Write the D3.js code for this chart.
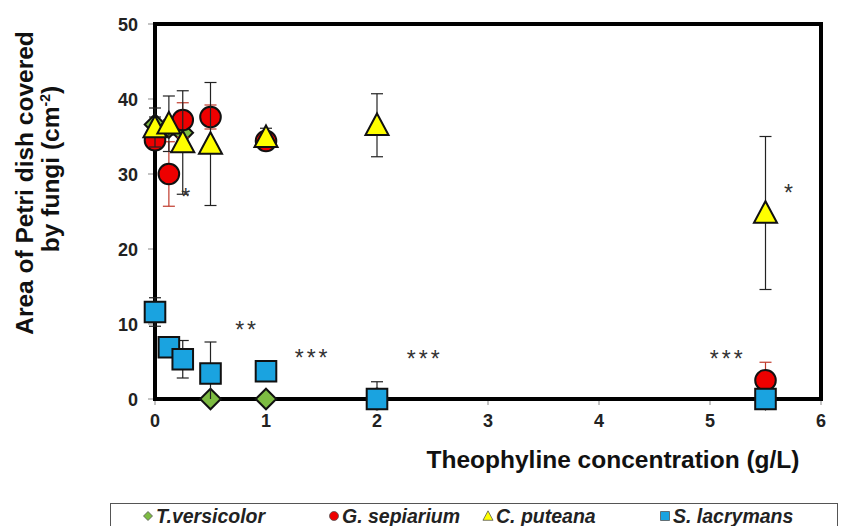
<!DOCTYPE html>
<html>
<head>
    <meta charset="utf-8">
    <script src="https://d3js.org/d3.v7.min.js"></script>
    <style>
        body { margin: 0; background: #fff; }
        svg { display: block; font-family: "Liberation Sans", Arial, sans-serif; }
    </style>
</head>
<body>
<svg id="chart" width="842" height="526"></svg>
<script>
    // concentrations (g/L)
    const conc = [0, 0.125, 0.25, 0.5, 1, 2, 5.5]

    const tVersicolor = [36.6, 36.2, 35.5, 0, 0, 0, 0]
    const tVersicolorErr = [1, 1, 1, 0, 0, 0, 0]
    const gSepiarium = [34.5, 30, 37.2, 37.6, 34.4, 0, 2.5]
    const gSepiariumErr = [0.4, 4.3, 2.3, 1.6, 0.4, 0, 2.4]
    const cPuteana = [36.2, 36.7, 34.2, 34, 34.9, 36.5, 24.8]
    const cPuteanaErr = [2.6, 3.7, 6.9, 8.2, 1.2, 4.2, 10.2]
    const sLacrymans = [11.6, 6.9, 5.3, 3.4, 3.7, 0, 0]
    const sLacrymansErr = [1.9, 0.6, 2.5, 4.2, 0.4, 2.3, 0.4]

    const xTicks = [0, 1, 2, 3, 4, 5, 6]
    const yTicks = [0, 10, 20, 30, 40, 50]

    // significance marks: [x, y, label]
    const stars = [[0.29, 27.4, "*"], [5.72, 27.9, "*"], [0.83, 9.6, "**"],
                   [1.42, 5.9, "***"], [2.43, 5.7, "***"], [5.16, 5.7, "***"]]

    const series = [
        {name: "T.versicolor", vals: tVersicolor, err: tVersicolorErr, shape: "diamond", fill: "#7dbb42", errColor: "#222"},
        {name: "G. sepiarium", vals: gSepiarium, err: gSepiariumErr, shape: "circle", fill: "#ee0000", errColor: "#c0392b"},
        {name: "C. puteana", vals: cPuteana, err: cPuteanaErr, shape: "triangle", fill: "#ffff00", errColor: "#222"},
        {name: "S. lacrymans", vals: sLacrymans, err: sLacrymansErr, shape: "square", fill: "#1aa3e0", errColor: "#222"}
    ]

    const svg = d3.select("#chart")
    const plotL = 155, plotR = 821, plotT = 24, plotB = 399

    const x = d3.scaleLinear().domain([0, 6]).range([plotL, plotR])
    const y = d3.scaleLinear().domain([0, 50]).range([plotB, plotT])

    function shapePath(shape, s) {
        // s = half size
        if (shape === "diamond") return `M0,${-s}L${s},0L0,${s}L${-s},0Z`
        if (shape === "square") return `M${-s},${-s}H${s}V${s}H${-s}Z`
        if (shape === "triangle") return `M0,${-s * 1.15}L${s * 1.12},${s * 0.95}L${-s * 1.12},${s * 0.95}Z`
        return d3.symbol(d3.symbolCircle, Math.PI * s * s)()
    }

    // ticks
    svg.append("g").selectAll("line").data(yTicks).join("line")
        .attr("x1", plotL - 7).attr("x2", plotL)
        .attr("y1", d => y(d)).attr("y2", d => y(d))
        .attr("stroke", "#888").attr("stroke-width", 1)
    svg.append("g").selectAll("line").data(xTicks).join("line")
        .attr("x1", d => x(d)).attr("x2", d => x(d))
        .attr("y1", plotB).attr("y2", plotB + 6)
        .attr("stroke", "#888").attr("stroke-width", 1)

    svg.append("g").selectAll("text").data(yTicks).join("text")
        .attr("x", plotL - 17).attr("y", d => y(d) + 6.5)
        .attr("text-anchor", "end").attr("font-size", 18).attr("font-weight", "bold")
        .attr("fill", "#222").text(d => d)
    svg.append("g").selectAll("text").data(xTicks).join("text")
        .attr("x", d => x(d)).attr("y", plotB + 28)
        .attr("text-anchor", "middle").attr("font-size", 18).attr("font-weight", "bold")
        .attr("fill", "#222").text(d => d)

    // frame
    svg.append("rect").attr("x", plotL).attr("y", plotT).attr("width", plotR - plotL).attr("height", plotB - plotT)
        .attr("fill", "none").attr("stroke", "#000").attr("stroke-width", 4)

    // axis titles
    svg.append("text").attr("x", 613).attr("y", 468).attr("text-anchor", "middle")
        .attr("font-size", 24.5).attr("font-weight", "bold").attr("fill", "#111")
        .text("Theophyline concentration (g/L)")

    svg.append("text").attr("transform", "translate(33,183) rotate(-90)")
        .attr("text-anchor", "middle").attr("font-size", 24.5).attr("font-weight", "bold").attr("fill", "#111")
        .text("Area of Petri dish covered")
    let t2 = svg.append("text").attr("transform", "translate(59,169) rotate(-90)")
        .attr("text-anchor", "middle").attr("font-size", 24.5).attr("font-weight", "bold").attr("fill", "#111")
    t2.append("tspan").text("by fungi (cm")
    t2.append("tspan").attr("font-size", 14).attr("dy", -9).text("-2")
    t2.append("tspan").attr("dy", 9).text(")")

    // series: error bars then markers, in excel series order
    series.forEach(s => {
        const pts = conc.map((c, i) => ({c: c, v: s.vals[i], e: s.err[i]}))
        const g = svg.append("g")
        const eb = g.selectAll("g.eb").data(pts.filter(d => d.e > 0)).join("g")
        eb.append("line").attr("x1", d => x(d.c)).attr("x2", d => x(d.c))
            .attr("y1", d => y(Math.max(0, d.v - d.e))).attr("y2", d => y(d.v + d.e))
            .attr("stroke", s.errColor).attr("stroke-width", 1.2)
        ;[1, -1].forEach(sign => {
            eb.filter(d => d.v + sign * d.e > 0).append("line")
                .attr("x1", d => x(d.c) - 6).attr("x2", d => x(d.c) + 6)
                .attr("y1", d => y(d.v + sign * d.e)).attr("y2", d => y(d.v + sign * d.e))
                .attr("stroke", s.errColor).attr("stroke-width", 1.2)
        })
        g.selectAll("path").data(pts).join("path")
            .attr("transform", d => `translate(${x(d.c)},${y(d.v)})`)
            .attr("d", shapePath(s.shape, 10.3))
            .attr("fill", s.fill).attr("stroke", "#111").attr("stroke-width", 2)
    })

    svg.append("g").selectAll("text").data(stars).join("text")
        .attr("x", d => x(d[0])).attr("y", d => y(d[1]) + 11)
        .attr("text-anchor", "middle").attr("font-size", 23).attr("fill", "#333")
        .attr("letter-spacing", 3)
        .text(d => d[2])

    // legend
    const legend = svg.append("g")
    legend.append("rect").attr("x", 110.5).attr("y", 503.5).attr("width", 727).attr("height", 30)
        .attr("fill", "#fff").attr("stroke", "#555").attr("stroke-width", 1)
    const legX = [148, 334, 488, 665]
    const items = legend.selectAll("g.item").data(series).join("g")
        .attr("transform", (d, i) => `translate(${legX[i]},516)`)
    items.append("path").attr("d", d => shapePath(d.shape, 4.5))
        .attr("fill", d => d.fill).attr("stroke", "#555").attr("stroke-width", 0.8)
    items.append("text").attr("x", 8).attr("y", 7)
        .attr("font-size", 19.5).attr("font-weight", "bold").attr("font-style", "italic").attr("fill", "#222")
        .text(d => d.name)
</script>
</body>
</html>
